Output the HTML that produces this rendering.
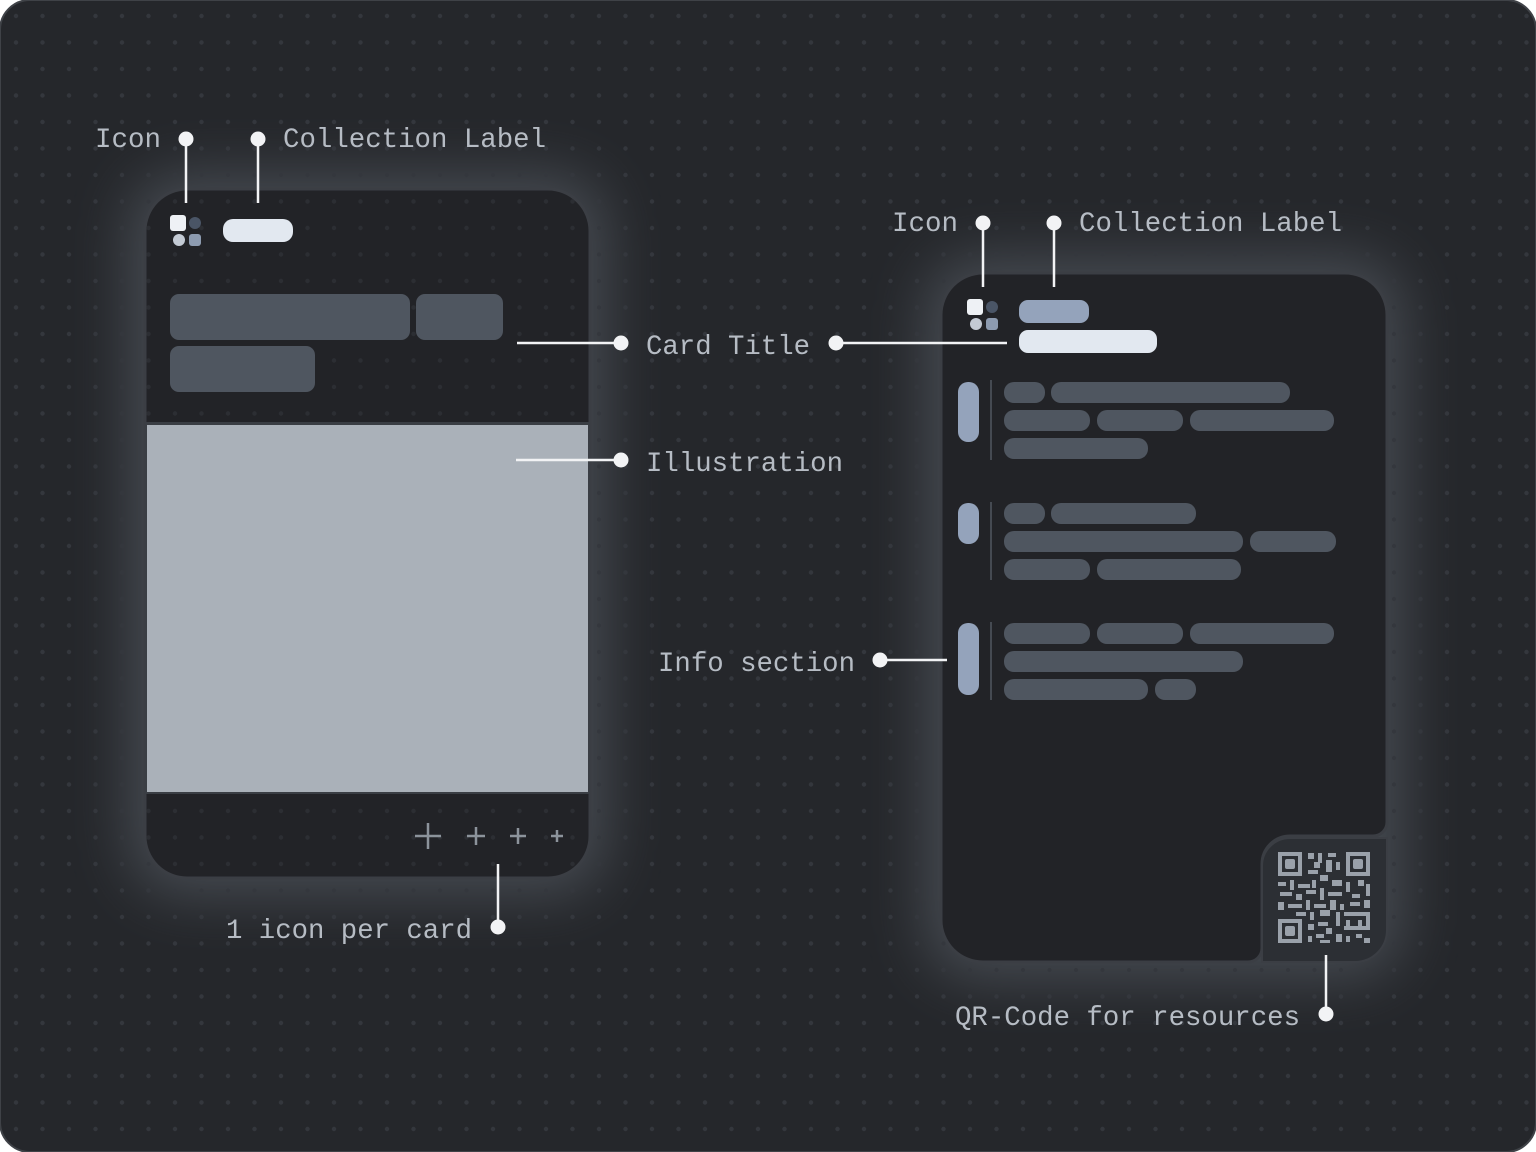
<!DOCTYPE html>
<html><head><meta charset="utf-8"><style>
html,body{margin:0;padding:0;background:#fff;}
svg{display:block}
text{font-family:"Liberation Mono","DejaVu Sans Mono",monospace;font-size:28px;fill:#b6bcc4;}
</style></head><body>
<svg width="1536" height="1152" viewBox="0 0 1536 1152" xmlns="http://www.w3.org/2000/svg">
<defs>
<pattern id="dots" x="3" y="3" width="26.5" height="26.5" patternUnits="userSpaceOnUse">
<circle cx="13" cy="13" r="2.2" fill="#34373d"/>
</pattern>
<pattern id="dots2" x="3" y="3" width="26.5" height="26.5" patternUnits="userSpaceOnUse">
<circle cx="13" cy="13" r="2.2" fill="#2c2e33"/>
</pattern>
<filter id="glow" x="-30%" y="-30%" width="160%" height="160%">
<feGaussianBlur stdDeviation="30"/>
</filter>
<clipPath id="lc"><rect x="145" y="189" width="445" height="689" rx="42"/></clipPath>
</defs>
<rect x="0" y="0" width="1536" height="1152" rx="30" fill="#25272b" stroke="#3f4247" stroke-width="2"/>
<rect x="130" y="175" width="475" height="718" rx="50" fill="#7c8590" opacity="0.4" filter="url(#glow)"/>
<rect x="926" y="258" width="476" height="719" rx="50" fill="#7c8590" opacity="0.4" filter="url(#glow)"/>
<rect x="2" y="2" width="1532" height="1148" rx="29" fill="url(#dots)"/>

<rect x="145" y="189" width="445" height="689" rx="42" fill="#222327" stroke="#3b3e44" stroke-width="3"/>
<g clip-path="url(#lc)">
<rect x="145" y="189" width="445" height="689" fill="url(#dots2)"/>
<rect x="145" y="422" width="445" height="372" fill="#3a3e44"/>
<rect x="147" y="425" width="441" height="367" fill="#aab1b9"/>
</g>
<rect x="170" y="215" width="16" height="16" rx="3" fill="#eef1f5"/>
<circle cx="195" cy="223" r="6" fill="#4a5566"/>
<circle cx="179" cy="240" r="6" fill="#c3cad4"/>
<rect x="189" y="234" width="12" height="12" rx="3" fill="#8d9bb0"/>
<rect x="223" y="219" width="70" height="23" rx="10" fill="#e2e8f0"/>
<rect x="170" y="294" width="240" height="46" rx="9" fill="#4f5660"/>
<rect x="416" y="294" width="87" height="46" rx="9" fill="#4f5660"/>
<rect x="170" y="346" width="145" height="46" rx="9" fill="#4f5660"/>
<g stroke="#8c939b" stroke-width="2.5">
<line x1="415" y1="836" x2="441" y2="836"/><line x1="428" y1="823" x2="428" y2="849"/>
<line x1="467" y1="836" x2="485" y2="836"/><line x1="476" y1="827" x2="476" y2="845"/>
<line x1="510" y1="836" x2="526" y2="836"/><line x1="518" y1="828" x2="518" y2="844"/>
<line x1="551" y1="836" x2="563" y2="836"/><line x1="557" y1="830" x2="557" y2="842"/>
</g>

<path d="M983 273 H1345 A42 42 0 0 1 1387 315 V822 A14 14 0 0 1 1373 836 H1290 A28 28 0 0 0 1262 864 V948 A14 14 0 0 1 1248 962 H983 A42 42 0 0 1 941 920 V315 A42 42 0 0 1 983 273 Z" fill="#222327" stroke="#3b3e44" stroke-width="3"/>
<path d="M1290 838 H1387 V930 A32 32 0 0 1 1355 962 H1262 V866 A28 28 0 0 1 1290 838 Z" fill="#2c2f34" stroke="#3b3e44" stroke-width="2"/>
<rect x="967" y="299" width="16" height="16" rx="3" fill="#eef1f5"/>
<circle cx="992" cy="307" r="6" fill="#4a5566"/>
<circle cx="976" cy="324" r="6" fill="#c3cad4"/>
<rect x="986" y="318" width="12" height="12" rx="3" fill="#8d9bb0"/>
<rect x="1019" y="300" width="70" height="23" rx="9" fill="#94a3bb"/>
<rect x="1019" y="330" width="138" height="23" rx="9" fill="#e2e8f0"/>
<g fill="#4f5660">
<rect x="1004" y="382" width="41" height="21" rx="10"/><rect x="1051" y="382" width="239" height="21" rx="10"/>
<rect x="1004" y="410" width="86" height="21" rx="10"/><rect x="1097" y="410" width="86" height="21" rx="10"/><rect x="1190" y="410" width="144" height="21" rx="10"/>
<rect x="1004" y="438" width="144" height="21" rx="10"/>
<rect x="1004" y="503" width="41" height="21" rx="10"/><rect x="1051" y="503" width="145" height="21" rx="10"/>
<rect x="1004" y="531" width="239" height="21" rx="10"/><rect x="1250" y="531" width="86" height="21" rx="10"/>
<rect x="1004" y="559" width="86" height="21" rx="10"/><rect x="1097" y="559" width="144" height="21" rx="10"/>
<rect x="1004" y="623" width="86" height="21" rx="10"/><rect x="1097" y="623" width="86" height="21" rx="10"/><rect x="1190" y="623" width="144" height="21" rx="10"/>
<rect x="1004" y="651" width="239" height="21" rx="10"/>
<rect x="1004" y="679" width="144" height="21" rx="10"/><rect x="1155" y="679" width="41" height="21" rx="10"/>
</g>
<g fill="#94a3bb">
<rect x="958" y="382" width="21" height="60" rx="10"/>
<rect x="958" y="503" width="21" height="41" rx="10"/>
<rect x="958" y="623" width="21" height="72" rx="10"/>
</g>
<g stroke="#454a52" stroke-width="2">
<line x1="991" y1="380" x2="991" y2="460"/>
<line x1="991" y1="502" x2="991" y2="580"/>
<line x1="991" y1="622" x2="991" y2="700"/>
</g>
<g fill="#9aa1aa">
<path fill-rule="evenodd" d="M1278 852h24v24h-24z M1282 856v16h16v-16z"/><rect x="1285" y="859" width="10" height="10" rx="2"/>
<path fill-rule="evenodd" d="M1346 852h24v24h-24z M1350 856v16h16v-16z"/><rect x="1353" y="859" width="10" height="10" rx="2"/>
<path fill-rule="evenodd" d="M1278 919h24v24h-24z M1282 923v16h16v-16z"/><rect x="1285" y="926" width="10" height="10" rx="2"/>
<rect x="1308" y="853" width="6" height="6"/><rect x="1318" y="853" width="4" height="10"/><rect x="1328" y="853" width="8" height="4"/><rect x="1314" y="862" width="6" height="6"/><rect x="1326" y="860" width="6" height="12"/><rect x="1336" y="862" width="4" height="8"/>
<rect x="1308" y="870" width="10" height="4"/><rect x="1320" y="875" width="8" height="6"/>
<rect x="1278" y="882" width="8" height="4"/><rect x="1290" y="880" width="4" height="10"/><rect x="1298" y="884" width="12" height="4"/><rect x="1312" y="880" width="4" height="8"/><rect x="1332" y="880" width="10" height="6"/><rect x="1346" y="882" width="4" height="10"/><rect x="1358" y="880" width="6" height="6"/><rect x="1366" y="884" width="4" height="12"/>
<rect x="1280" y="892" width="12" height="4"/><rect x="1296" y="894" width="6" height="6"/><rect x="1306" y="890" width="10" height="4"/><rect x="1320" y="888" width="4" height="12"/><rect x="1328" y="892" width="14" height="4"/><rect x="1352" y="894" width="8" height="4"/>
<rect x="1278" y="902" width="6" height="8"/><rect x="1288" y="904" width="14" height="4"/><rect x="1306" y="900" width="4" height="10"/><rect x="1314" y="904" width="12" height="4"/><rect x="1330" y="900" width="6" height="10"/><rect x="1340" y="904" width="4" height="6"/><rect x="1350" y="902" width="10" height="4"/><rect x="1364" y="900" width="6" height="8"/>
<rect x="1296" y="912" width="10" height="4"/><rect x="1310" y="912" width="4" height="8"/><rect x="1320" y="910" width="10" height="6"/><rect x="1336" y="912" width="4" height="14"/><rect x="1344" y="912" width="24" height="4"/><rect x="1346" y="920" width="4" height="6"/><rect x="1358" y="920" width="4" height="6"/><rect x="1344" y="926" width="24" height="4"/><rect x="1366" y="912" width="4" height="18"/>
<rect x="1308" y="924" width="6" height="6"/><rect x="1318" y="922" width="10" height="4"/><rect x="1326" y="928" width="6" height="6"/><rect x="1308" y="936" width="4" height="6"/><rect x="1316" y="934" width="8" height="4"/><rect x="1320" y="940" width="10" height="3"/><rect x="1336" y="934" width="6" height="8"/><rect x="1346" y="936" width="4" height="6"/><rect x="1356" y="934" width="6" height="4"/><rect x="1364" y="938" width="6" height="5"/>
</g>

<g stroke="#f2f3f5" stroke-width="2.5" fill="none">
<line x1="186" y1="139" x2="186" y2="203"/>
<line x1="258" y1="139" x2="258" y2="203"/>
<line x1="517" y1="343" x2="621" y2="343"/>
<line x1="836" y1="343" x2="1007" y2="343"/>
<line x1="516" y1="460" x2="621" y2="460"/>
<line x1="880" y1="660" x2="947" y2="660"/>
<line x1="983" y1="223" x2="983" y2="287"/>
<line x1="1054" y1="223" x2="1054" y2="287"/>
<line x1="498" y1="864" x2="498" y2="927"/>
<line x1="1326" y1="955" x2="1326" y2="1014"/>
</g>
<g fill="#f2f3f5">
<circle cx="186" cy="139" r="7.5"/><circle cx="258" cy="139" r="7.5"/>
<circle cx="621" cy="343" r="7.5"/><circle cx="836" cy="343" r="7.5"/>
<circle cx="621" cy="460" r="7.5"/><circle cx="880" cy="660" r="7.5"/>
<circle cx="983" cy="223" r="7.5"/><circle cx="1054" cy="223" r="7.5"/>
<circle cx="498" cy="927" r="7.5"/><circle cx="1326" cy="1014" r="7.5"/>
</g>
<text x="95" y="147" textLength="66" lengthAdjust="spacingAndGlyphs">Icon</text>
<text x="283" y="147" textLength="263" lengthAdjust="spacingAndGlyphs">Collection Label</text>
<text x="892" y="231" textLength="66" lengthAdjust="spacingAndGlyphs">Icon</text>
<text x="1079" y="231" textLength="263" lengthAdjust="spacingAndGlyphs">Collection Label</text>
<text x="646" y="354" textLength="164" lengthAdjust="spacingAndGlyphs">Card Title</text>
<text x="646" y="471" textLength="197" lengthAdjust="spacingAndGlyphs">Illustration</text>
<text x="658" y="671" textLength="197" lengthAdjust="spacingAndGlyphs">Info section</text>
<text x="226" y="938" textLength="246" lengthAdjust="spacingAndGlyphs">1 icon per card</text>
<text x="955" y="1025" textLength="345" lengthAdjust="spacingAndGlyphs">QR-Code for resources</text>
</svg>
</body></html>
